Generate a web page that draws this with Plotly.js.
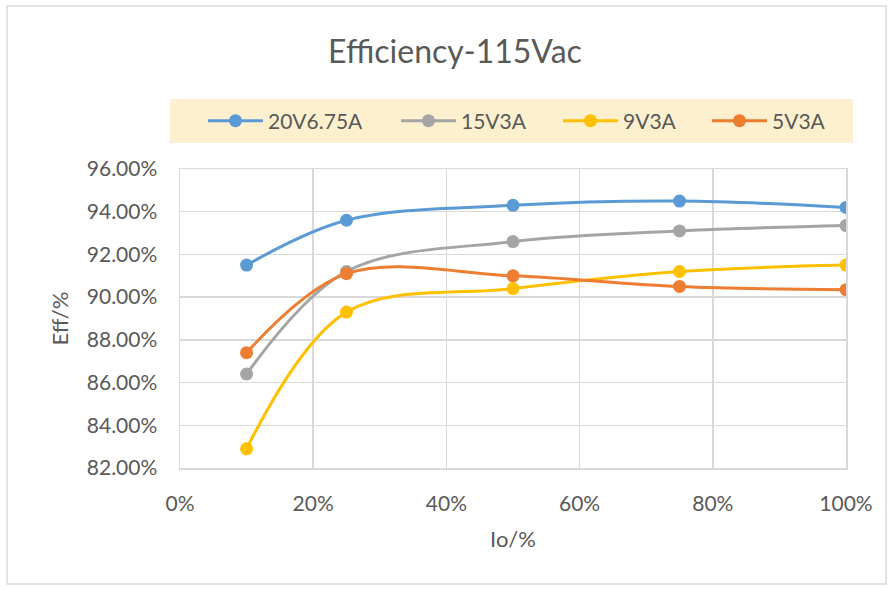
<!DOCTYPE html>
<html><head><meta charset="utf-8">
<script src="https://cdn.plot.ly/plotly-3.0.1.min.js"></script>
<style>
html,body{margin:0;padding:0;background:#fff;}
#chart{width:894px;height:589px;}
#frame{position:absolute;left:6px;top:5px;width:881px;height:580px;border:2px solid #e3e3e3;pointer-events:none;box-sizing:border-box;}
</style></head>
<body>
<div id="chart"></div>
<div id="frame"></div>
<script>
const loadPct = [10, 25, 50, 75, 100];
const eff20V675A = [91.5, 93.6, 94.3, 94.5, 94.2];
const eff15V3A   = [86.4, 91.2, 92.6, 93.1, 93.35];
const eff9V3A    = [82.9, 89.3, 90.4, 91.2, 91.5];
const eff5V3A    = [87.4, 91.1, 91.0, 90.5, 90.35];
const seriesNames = ['20V6.75A', '15V3A', '9V3A', '5V3A'];
const seriesColors = ['#5B9BD5', '#A5A5A5', '#FFC000', '#ED7D31'];
const seriesData = [eff20V675A, eff15V3A, eff9V3A, eff5V3A];
const xTicks = [0, 20, 40, 60, 80, 100];
const yTicks = [82, 84, 86, 88, 90, 92, 94, 96];

const legendIds = ['legend', 'legend2', 'legend3', 'legend4'];
const legendXpx = [203, 396, 558, 707];

const traces = seriesData.map((ys, i) => ({
  x: loadPct, y: ys, name: seriesNames[i], type: 'scatter', mode: 'lines+markers',
  legend: legendIds[i],
  line: {color: seriesColors[i], width: 3, shape: 'spline', smoothing: 1},
  marker: {color: seriesColors[i], size: 13}
}));

const fontFam = 'Lato, Open Sans, sans-serif';
const txtColor = '#595959';
const L = 180, R = 48, T = 169, B = 121, W = 894, H = 589;
const pw = W - L - R, ph = H - T - B;
const layout = {
  width: W, height: H,
  margin: {l: L, r: R, t: T, b: B},
  paper_bgcolor: '#fff', plot_bgcolor: '#fff',
  title: {text: 'Efficiency-115Vac', font: {family: fontFam, size: 32, color: txtColor}, x: 455 / W, xanchor: 'center', y: 1 - 52 / H, yanchor: 'middle'},
  xaxis: {range: [0, 100], tickvals: xTicks, ticktext: xTicks.map(v => v + '%'),
    showgrid: true, gridcolor: '#d9d9d9', gridwidth: 1.5, zeroline: false,
    showline: true, linecolor: '#d9d9d9', linewidth: 1.5, mirror: true,
    ticks: '', ticklabelstandoff: 16, tickfont: {family: fontFam, size: 21, color: txtColor},
    title: {text: 'Io/%', font: {family: fontFam, size: 22, color: txtColor}, standoff: 18}},
  yaxis: {range: [82, 96], tickvals: yTicks, ticktext: yTicks.map(v => v.toFixed(2) + '%'),
    showgrid: true, gridcolor: '#d9d9d9', gridwidth: 1.5, zeroline: false,
    showline: true, linecolor: '#d9d9d9', linewidth: 1.5, mirror: true,
    ticks: '', ticklabelstandoff: 17, tickfont: {family: fontFam, size: 21, color: txtColor},
    title: {text: 'Eff/%', font: {family: fontFam, size: 22, color: txtColor}, standoff: 12}},
  showlegend: true,
  shapes: [{type: 'rect', xref: 'paper', yref: 'paper', x0: (170 - L) / pw, x1: (853 - L) / pw, y0: (H - B - 143) / ph, y1: (H - B - 99) / ph,
    fillcolor: '#FDF0CE', line: {width: 0}, layer: 'below'}]
};
legendIds.forEach((id, i) => {
  layout[id] = {orientation: 'h', x: (legendXpx[i] - L) / pw, xanchor: 'left', y: (H - B - 121) / ph, yanchor: 'middle',
    bgcolor: 'rgba(0,0,0,0)', font: {family: fontFam, size: 21, color: txtColor}, itemwidth: 55};
});
Plotly.newPlot('chart', traces, layout, {displayModeBar: false, staticPlot: true});
</script>
</body></html>
